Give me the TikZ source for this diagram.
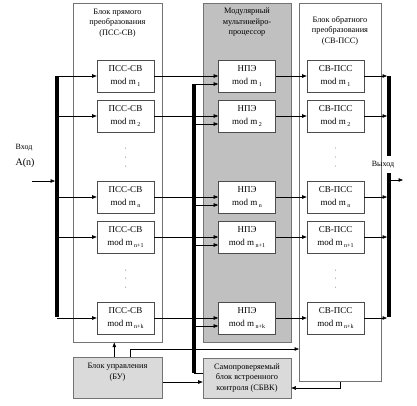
\documentclass[tikz,border=0pt]{standalone}
\usepackage{fontspec}
\setmainfont{Liberation Serif}
\usetikzlibrary{arrows.meta}
\newcommand{\sbs}[1]{\raisebox{-0.5ex}{\fontsize{6}{6}\selectfont #1}}
\definecolor{modgray}{RGB}{192,192,192}
\definecolor{ctlgray}{RGB}{218,218,218}
\begin{document}
\begin{tikzpicture}[x=1pt,y=-1pt,
  blk/.style={draw=black!55, line width=0.6pt, inner sep=0pt, anchor=north west},
  ibox/.style={draw=black!70, fill=white, line width=0.6pt, minimum width=57pt, minimum height=32pt, inner sep=0pt, align=center, font=\fontsize{9}{13}\selectfont},
  arr/.style={-{Triangle[length=4.5pt,width=3.5pt]}, line width=0.55pt},
  ln/.style={line width=0.55pt},
  bus/.style={line width=3.6pt},
  ttl/.style={align=center, font=\fontsize{8.3}{10.5}\selectfont},
  dot/.style={fill=black!55}]
\useasboundingbox (0,0) rectangle (417,405);
% outer blocks
\node[blk, fill=white, minimum width=89pt, minimum height=339pt] (LB) at (73,3) {};
\node[blk, fill=modgray, minimum width=88pt, minimum height=339pt] (MB) at (203,3) {};
\node[blk, minimum width=82pt, minimum height=378pt] (RB) at (299,3) {};
\node[ttl] (LBt) at (117.5,23) {Блок прямого\\преобразования\\(ПСС-СВ)};
\node[ttl] (MBt) at (247,22.5) {Модулярный\\мультинейро-\\процессор};
\node[ttl] (RBt) at (340,30.5) {Блок обратного\\преобразования\\(СВ-ПСС)};
% control blocks
\node[blk, fill=ctlgray, minimum width=89pt, minimum height=41pt] (BU) at (73,357) {};
\node[ttl] (BUt) at (117.5,372) {Блок управления\\(БУ)};
\node[blk, fill=ctlgray, minimum width=88pt, minimum height=40pt, align=center, font=\fontsize{8.3}{10.5}\selectfont, anchor=center] (SB) at (247,378) {Самопроверяемый\\блок встроенного\\контроля (СБВК)};
% buses
\coordinate (busLt) at (57,76);
\coordinate (busLb) at (57,317);
\coordinate (busMt) at (194,84);
\coordinate (busMb) at (194,373);
\coordinate (busRt) at (389,76);
\coordinate (busRg1) at (389,156);
\coordinate (busRg2) at (389,173);
\coordinate (busRb) at (389,317);
\coordinate (busLin) at (55,0);
\coordinate (busRin) at (387,0);
\draw[bus] (busLt) -- (busLb);
\draw[bus] (busMt) -- (busMb);
\draw[bus] (busRt) -- (busRg1);
\draw[bus] (busRg2) -- (busRb);
% input / output
\coordinate (inS) at (32,181);
\coordinate (outE) at (403,180);
\draw[arr] (inS) -- (busLin |- inS);
\node[font=\fontsize{8}{9}\selectfont] (inL) at (24,148) {Вход};
\node[font=\fontsize{10}{11}\selectfont] (inA) at (25,163) {A(n)};
\draw[arr] ([xshift=2pt]busRg2 |- outE) -- (outE);
\node[font=\fontsize{8}{9}\selectfont] (outL) at (383,165) {Выход};
% rows
\foreach \r/\y/\s in {1/76/1,2/116/2,3/197/n,4/237/n+1,5/318/n+k}{
  \node[ibox] (L\r) at (125.5,\y) {ПСС-СВ\\mod m\,\sbs{\s}};
  \node[ibox] (N\r) at (247,\y) {НПЭ\\mod m\,\sbs{\s}};
  \node[ibox] (R\r) at (335.5,\y) {СВ-ПСС\\mod m\,\sbs{\s}};
  \draw[arr] (busLt |- L\r) -- (L\r.west);
  \draw[arr] (L\r.east) -- (N\r.west);
  \draw[arr] ([yshift=-8pt]busMt |- N\r.west) -- ([yshift=-8pt]N\r.west);
  \draw[arr] (N\r.east) -- (R\r.west);
  \draw[arr] (R\r.east) -- (busRin |- R\r.east);
}
% dots
\foreach \yy in {148,157,166,270,278,287}{
  \fill[dot] (125.5,\yy) circle (0.5pt);
  \fill[dot] (335.5,\yy) circle (0.5pt);
}
% control connections
\draw[arr] ([xshift=-3.5pt]BU.north) -- ([xshift=-3.5pt]LB.south);
\coordinate (c1) at (0,349);
\draw[arr] ([xshift=12pt]BU.north) |- (RB.west |- c1);
\coordinate (c2) at (0,382);
\draw[arr] (BU.east |- c2) -- (SB.west |- c2);
\draw[ln] (busMb) -- (SB.west |- busMb);
\coordinate (c3) at (340,388);
\draw[arr] (RB.south -| c3) |- (SB.east |- c3);
\end{tikzpicture}
\end{document}
